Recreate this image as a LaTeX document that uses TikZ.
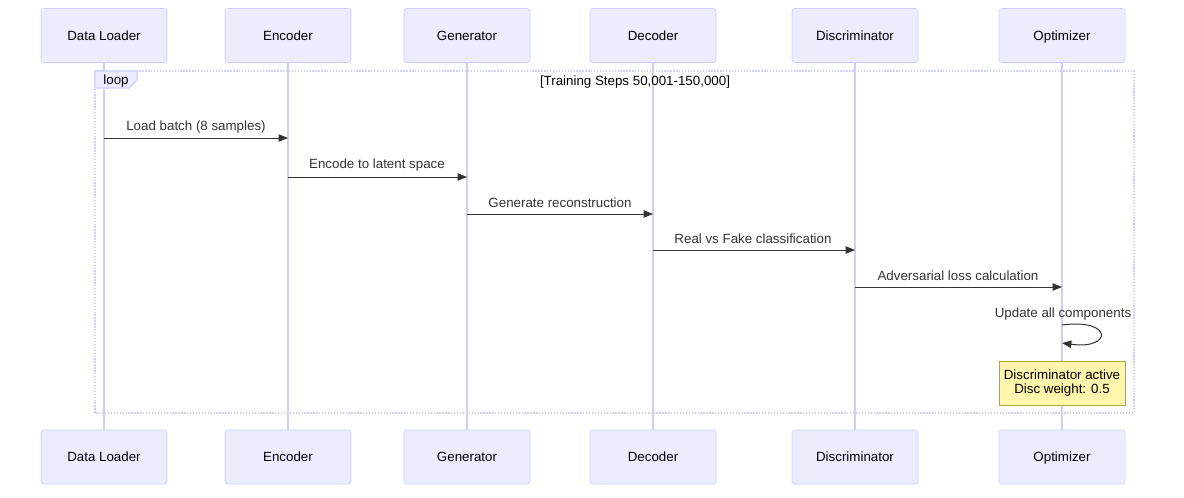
\documentclass[tikz,border=0pt]{standalone}
\usepackage{fontspec}
\setmainfont{Liberation Sans}
\usetikzlibrary{arrows.meta}
\definecolor{actfill}{HTML}{ECECFF}
\definecolor{actdraw}{HTML}{CCCCFF}
\definecolor{lifeline}{HTML}{D6CCF2}
\definecolor{msgcol}{HTML}{333333}
\definecolor{notefill}{HTML}{FFF5AD}
\definecolor{notedraw}{HTML}{AAAA33}
\tikzset{
  actor/.style={draw=actdraw, fill=actfill, rounded corners=2pt, minimum width=94.5pt, minimum height=40.5pt, inner sep=0pt, text height=7.2pt, text depth=0pt, font=\fontsize{10}{12}\selectfont, text=black},
  life/.style={draw=lifeline, line width=0.8pt},
  msg/.style={draw=msgcol, line width=0.75pt, -{Triangle[length=7pt,width=5.5pt]}},
  mlabel/.style={font=\fontsize{10}{12}\selectfont, text=msgcol, inner sep=0pt, text height=7.2pt, text depth=0pt},
  loopbox/.style={draw=actdraw, line width=1pt, dash pattern=on 1pt off 1.2pt},
  note/.style={draw=notedraw, fill=notefill, minimum width=94.5pt, minimum height=33pt, inner sep=0pt, align=center, font=\fontsize{10}{12}\selectfont, text=black}
}
\begin{document}
\begin{tikzpicture}[x=0.75pt,y=-0.75pt]
\useasboundingbox (0,0) rectangle (1184,497);
% top actors
\node[actor] (dl) at (104,35.5) {Data Loader};
\node[actor] (enc) at (288,35.5) {Encoder};
\node[actor] (gen) at (467,35.5) {Generator};
\node[actor] (dec) at (653,35.5) {Decoder};
\node[actor] (dis) at (855,35.5) {Discriminator};
\node[actor] (opt) at (1062,35.5) {Optimizer};
% bottom actors
\node[actor] (dlb) at (104,457) {Data Loader};
\node[actor] (encb) at (288,457) {Encoder};
\node[actor] (genb) at (467,457) {Generator};
\node[actor] (decb) at (653,457) {Decoder};
\node[actor] (disb) at (855,457) {Discriminator};
\node[actor] (optb) at (1062,457) {Optimizer};
% lifelines
\foreach \a/\b in {dl/dlb,enc/encb,gen/genb,dec/decb,dis/disb,opt/optb}
  \draw[life] (\a.south) -- (\b.north);
% loop frame
\draw[loopbox] (95,71) rectangle (1134,413);
\draw[draw=actdraw, fill=actfill, line width=0.8pt] (95,71) -- (137,71) -- (137,80) -- (129,88) -- (95,88) -- cycle;
\node[mlabel, text=black] (looplbl) at (116,80) {loop};
\node[mlabel, text=black] (loopcond) at (635,81) {[Training Steps 50,001-150,000]};
% messages
\draw[msg] (dl |- 0,138) -- (enc |- 0,138);
\node[mlabel] (l1) at (196,125.5) {Load batch (8 samples)};
\draw[msg] (enc |- 0,177) -- (gen |- 0,177);
\node[mlabel] (l2) at (377,163.5) {Encode to latent space};
\draw[msg] (gen |- 0,214) -- (dec |- 0,214);
\node[mlabel] (l3) at (560,202.5) {Generate reconstruction};
\draw[msg] (dec |- 0,250) -- (dis |- 0,250);
\node[mlabel] (l4) at (753,238.5) {Real vs Fake classification};
\draw[msg] (dis |- 0,287) -- (opt |- 0,287);
\node[mlabel] (l5) at (958,275.5) {Adversarial loss calculation};
% self message
\node[mlabel] (l6) at (1063,312.5) {Update all components};
\coordinate (s1) at (1062,325);
\coordinate (s2) at (1062,343);
\draw[msg] (s1) .. controls (1113,318) and (1113,350) .. (s2);
% note
\node[note] (nt) at (1062,383) {Discriminator active\\[-1pt]Disc weight: 0.5};
\end{tikzpicture}
\end{document}
